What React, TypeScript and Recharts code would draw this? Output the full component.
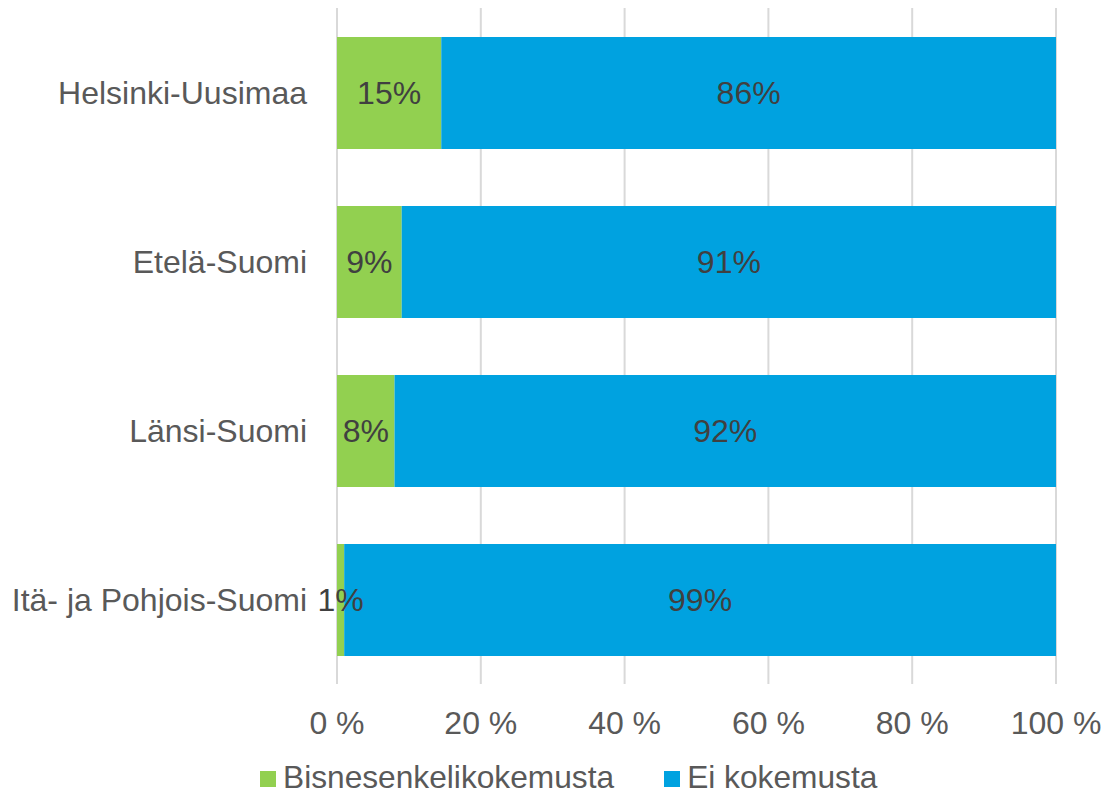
import { BarChart, Bar, XAxis, YAxis, CartesianGrid, Legend, LabelList } from "recharts";

const alueet = ["Helsinki-Uusimaa", "Etelä-Suomi", "Länsi-Suomi", "Itä- ja Pohjois-Suomi"];
const bisnesenkeli = [14.5, 9, 8, 1];
const eiKokemusta = [85.5, 91, 92, 99];
const xTicks = [0, 20, 40, 60, 80, 100];

const GREEN = "#92D050";
const BLUE = "#00A2E0";
const FONT = "'Liberation Sans', Arial, sans-serif";
const FS = 32;

const data = alueet.map((name, i) => ({
  name,
  bisnes: bisnesenkeli[i],
  ei: eiKokemusta[i],
}));

function LegendBox({ payload }: any) {
  return (
    <div style={{ paddingLeft: 260, paddingTop: 18, height: 30, display: "flex", fontFamily: FONT, fontSize: 31.7, color: "#595959", lineHeight: "30px" }}>
      {(payload || []).map((p: any, i: number) => (
        <div key={i} style={{ display: "flex", alignItems: "center", marginRight: i === 0 ? 50 : 0 }}>
          <span style={{ width: 16, height: 16, background: p.color, display: "inline-block", marginRight: 7, marginTop: 4 }} />
          <span>{p.value}</span>
        </div>
      ))}
    </div>
  );
}

export default function App() {
  const pct = (v: any) => `${Math.round(Number(v))}%`;
  return (
    <div style={{ position: "absolute", left: 0, top: 0, background: "#fff" }}>
      <BarChart
        width={1104}
        height={796}
        data={data}
        layout="vertical"
        margin={{ top: 8, right: 48, left: 0, bottom: 0 }}
        barSize={112}
      >
        <CartesianGrid horizontal={false} stroke="#d9d9d9" strokeWidth={2} />
        <XAxis
          type="number"
          domain={[0, 100]}
          ticks={xTicks}
          tickFormatter={(v) => `${v} %`}
          axisLine={false}
          tickLine={false}
          tickSize={0}
          tickMargin={27}
          height={60}
          tick={{ fill: "#595959", fontSize: FS, fontFamily: FONT }}
        />
        <YAxis
          type="category"
          dataKey="name"
          width={337}
          axisLine={false}
          tickLine={false}
          tickSize={0}
          tickMargin={30}
          tick={{ fill: "#595959", fontSize: FS, fontFamily: FONT }}
        />
        <Legend height={52} wrapperStyle={{ left: 0, width: 1104 }} content={<LegendBox />} />
        <Bar dataKey="bisnes" name="Bisnesenkelikokemusta" stackId="a" fill={GREEN} isAnimationActive={false}>
          <LabelList dataKey="bisnes" position="center" formatter={pct} fill="#404040" fontSize={FS} fontFamily={FONT} />
        </Bar>
        <Bar dataKey="ei" name="Ei kokemusta" stackId="a" fill={BLUE} isAnimationActive={false}>
          <LabelList dataKey="ei" position="center" formatter={pct} fill="#404040" fontSize={FS} fontFamily={FONT} />
        </Bar>
      </BarChart>
    </div>
  );
}
